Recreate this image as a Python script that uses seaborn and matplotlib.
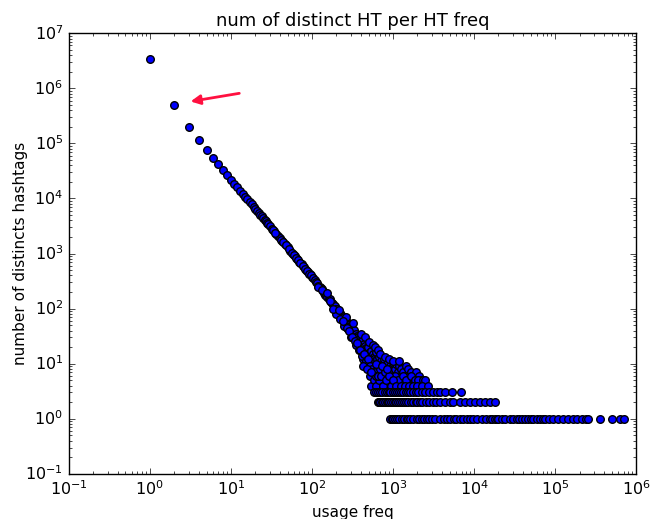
import matplotlib as mpl
mpl.use("Agg")
import matplotlib.pyplot as plt
import seaborn as sns
import pandas as pd
import numpy as np

# head of the distribution: usage frequency -> number of distinct hashtags
head_freq = [1, 2, 3, 4, 5, 6, 7, 8, 9, 10, 11, 12, 13, 14, 15, 16, 17, 18, 19, 20,
             21, 22, 23, 24, 25, 26, 27, 28, 29, 30, 32, 34, 36, 38, 40, 43, 46, 50,
             54, 58, 62, 66, 70, 75, 80, 85, 90, 95, 100]
head_count = [3400000, 490000, 200000, 115000, 76000, 55000, 42000, 33000, 26500, 22000,
              18600, 15900, 13900, 12200, 10800, 9610, 8640, 7810, 7100, 6490,
              5960, 5490, 5070, 4710, 4380, 4090, 3830, 3590, 3380, 3180, 2840, 2550,
              2310, 2100, 1920, 1690, 1500, 1290, 1130, 996, 886, 794, 716, 634, 566,
              508, 460, 418, 382]

# noisy middle part
mid_freq = [33, 35, 41, 44, 48, 52, 56, 60, 64, 68, 72, 78, 83, 88, 93, 98,
            104, 108, 112, 116, 120, 124, 128, 132, 136, 140, 145, 150, 155, 160, 165,
            170, 175, 180, 186, 192, 198, 204, 210, 216, 222, 228, 234, 240, 246, 252,
            258, 264, 270, 276, 282, 288, 294, 300, 306, 312, 318, 324, 330, 336, 342,
            348, 354, 360, 366, 372, 378, 384, 390, 396, 402, 410, 418, 426, 434, 442,
            450, 458, 466, 474, 482, 490, 498, 506, 514, 522, 530, 538, 546, 554, 562,
            570, 578, 586, 594, 602, 612, 622, 632, 642, 652, 662, 672, 682, 692, 702,
            712, 722, 732, 742, 752, 762, 772, 782, 792, 802, 812, 822, 832, 842, 852,
            862, 872, 882, 892, 902, 912, 922, 932, 942, 952, 962, 972, 982, 992, 1004,
            1020, 1040, 1060, 1080, 1100, 1120, 1150, 1180, 1210, 1240, 1270, 1300, 1340,
            1380, 1420, 1460, 1500, 1550, 1600, 1650, 1700, 1800, 1900, 2000, 2100, 2200,
            200, 220, 250, 260, 280, 300, 320, 350, 380, 400, 420, 450, 460, 500, 520,
            560, 600, 640, 650, 700, 800, 900, 1000, 1200, 540, 580, 620, 680, 750, 870,
            960, 1070, 1160, 1330, 1440, 1650, 1850, 2050, 2350, 2500,
            118, 134, 152, 168, 184, 214, 238, 268, 290, 315, 340, 362, 395, 415, 440,
            470, 495, 525, 555, 590, 615, 660, 690, 720, 760, 790, 830, 880, 940, 985,
            1090, 1260, 1400, 1580, 1750, 1950, 2300, 2700, 430, 480, 530, 610, 730, 850]
mid_count = [2700, 2400, 1780, 1620, 1400, 1220, 1040, 960, 830, 760, 670, 600, 520,
             490, 430, 400,
             360, 330, 300, 290, 262, 250, 232, 226, 205, 196, 180, 178, 160, 152, 150,
             132, 128, 122, 110, 112, 98, 100, 90, 86, 82, 76, 74, 68, 70, 60,
             62, 55, 56, 52, 50, 44, 48, 42, 46, 40, 38, 36, 41, 33, 30,
             35, 28, 32, 26, 30, 24, 27, 29, 22, 25, 20, 26, 19, 23, 17,
             21, 16, 19, 14, 18, 15, 20, 13, 16, 12, 17, 11, 14, 10, 15,
             9, 13, 12, 8, 11, 16, 9, 12, 7, 10, 8, 13, 6, 9, 11,
             7, 8, 5, 10, 6, 9, 7, 12, 5, 8, 6, 9, 4, 7, 10,
             5, 6, 8, 4, 7, 5, 9, 6, 3, 8, 5, 4, 7, 6, 9,
             10, 5, 8, 6, 10, 4, 7, 9, 5, 6, 8, 4, 7,
             5, 6, 9, 5, 8, 4, 7, 6, 5, 7, 4, 6, 5,
             80, 65, 48, 70, 42, 30, 55, 22, 18, 35, 12, 30, 10, 25, 6,
             22, 20, 5, 18, 15, 13, 12, 11, 11, 4, 5, 4, 5, 4, 5,
             4, 6, 5, 6, 5, 6, 5, 5, 5, 5,
             250, 220, 190, 140, 100, 95, 60, 45, 40, 30, 26, 24, 18, 14, 15,
             11, 12, 9, 8, 7, 6, 6, 8, 6, 4, 7, 5, 6, 4, 5,
             4, 4, 4, 4, 4, 4, 4, 4, 9, 8, 7, 10, 9, 8]

# long tail, rows of small counts
tail3_freq = [585, 620, 660, 700, 740, 790, 840, 880, 930, 990, 1050, 1120, 1190, 1260,
              1340, 1430, 1520, 1640, 1760, 1900, 2050, 2250, 2500, 2800, 3100, 3500,
              3800, 4400, 5300, 6900]
tail2_freq = [658, 680, 700, 725, 760, 790, 836, 870, 900, 950, 991, 1050, 1100, 1160,
              1220, 1300, 1370, 1450, 1550, 1650, 1780, 1900, 2000, 2150, 2300, 2560,
              2800, 3100, 3400, 3800, 4390, 5060, 5550, 6710, 7740, 8930, 10300, 11900,
              13700, 15800, 18200]
tail1_freq = [920, 964, 1000, 1050, 1110, 1180, 1280, 1380, 1480, 1550, 1620, 1750, 1960,
              2100, 2260, 2400, 2610, 2800, 3010, 3300, 3800, 4200, 4600, 5060, 5600,
              6000, 6710, 7300, 8130, 9000, 9800, 11000, 12400, 14000, 15800, 16500,
              18000, 19100, 20000, 22000, 24200, 28000, 30600, 33600, 36000, 38800,
              42000, 46800, 50000, 54000, 60000, 65300, 70000, 75300, 85000, 95300,
              110000, 126000, 146000, 168000, 185000, 213000, 240000, 258000, 360000,
              500000, 634000, 698000]

df = pd.concat([
    pd.DataFrame({"freq": head_freq, "count": head_count}),
    pd.DataFrame({"freq": mid_freq, "count": mid_count}),
    pd.DataFrame({"freq": tail3_freq, "count": 3}),
    pd.DataFrame({"freq": tail2_freq, "count": 2}),
    pd.DataFrame({"freq": tail1_freq, "count": 1}),
], ignore_index=True)

plt.style.use("classic")
plt.rcParams["xtick.labelsize"] = 11.5
plt.rcParams["ytick.labelsize"] = 11.5
fig = plt.figure(figsize=(6.62, 5.19), dpi=100, facecolor="white")
ax = fig.add_axes([0.104, 0.087, 0.857, 0.849])

sns.scatterplot(data=df, x="freq", y="count", ax=ax, color="blue",
                edgecolor="black", linewidth=1, s=30, legend=False)

ax.set_xscale("log")
ax.set_yscale("log")
ax.set_xlim(1e-1, 1e6)
ax.set_ylim(1e-1, 1e7)

ax.annotate("", xy=(2.94, 5.66e5), xytext=(13.7, 8.26e5),
            arrowprops=dict(arrowstyle="-|>", color="#ff1040", lw=2,
                            mutation_scale=14))

ax.set_title("num of distinct HT per HT freq", fontsize=13)
ax.set_xlabel("usage freq", fontsize=11)
ax.set_ylabel("number of distincts hashtags", fontsize=11)
ax.yaxis.set_label_coords(-0.072, 0.5)

plt.savefig("out.png", dpi=100, facecolor="white")
plt.close()
